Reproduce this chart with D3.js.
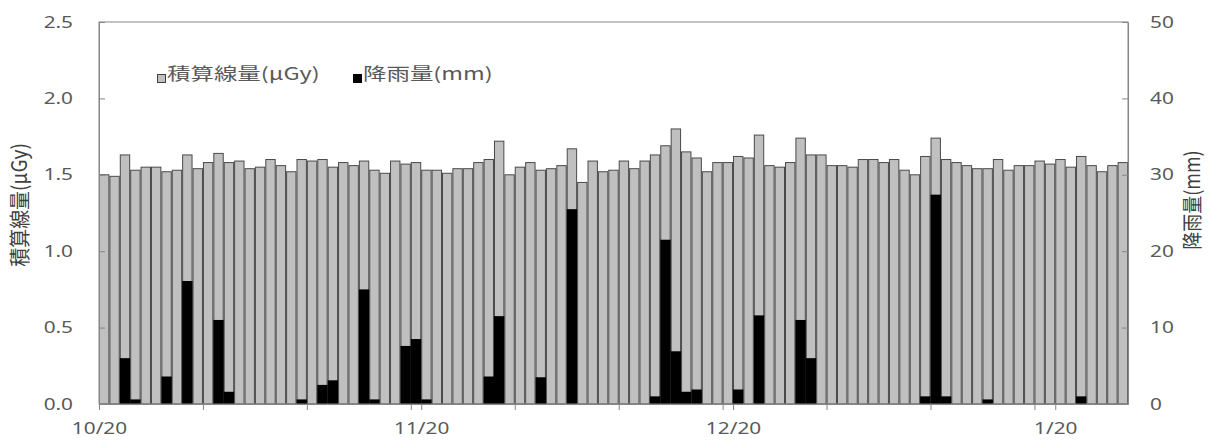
<!DOCTYPE html>
<html>
<head>
<meta charset="utf-8">
<script src="https://cdn.jsdelivr.net/npm/d3@7"></script>
<style>
  body { margin: 0; background: #fff; }
  svg { display: block; }
</style>
</head>
<body>
<svg id="chart" width="1211" height="445"></svg>
<script>
"use strict";

// first day of the series (10/20), one bar per day
const startDay = new Date(2012, 9, 20);

// 積算線量 (µGy), one value per day from 10/20
const dose = [
  1.50, 1.49, 1.63, 1.53, 1.55, 1.55, 1.52, 1.53, 1.63, 1.54,
  1.58, 1.64, 1.58, 1.59, 1.54, 1.55, 1.60, 1.56, 1.52, 1.60,
  1.59, 1.60, 1.55, 1.58, 1.56, 1.59, 1.53, 1.51, 1.59, 1.57,
  1.58, 1.53, 1.53, 1.51, 1.54, 1.54, 1.58, 1.60, 1.72, 1.50,
  1.55, 1.58, 1.53, 1.54, 1.56, 1.67, 1.45, 1.59, 1.52, 1.53,
  1.59, 1.54, 1.59, 1.63, 1.69, 1.80, 1.65, 1.61, 1.52, 1.58,
  1.58, 1.62, 1.61, 1.76, 1.56, 1.55, 1.58, 1.74, 1.63, 1.63,
  1.56, 1.56, 1.55, 1.60, 1.60, 1.58, 1.60, 1.53, 1.50, 1.62,
  1.74, 1.60, 1.58, 1.56, 1.54, 1.54, 1.60, 1.53, 1.56, 1.56,
  1.59, 1.57, 1.60, 1.55, 1.62, 1.56, 1.52, 1.56, 1.58
];

// 降雨量 (mm), same days
const rain = [
  0, 0, 6.0, 0.6, 0, 0, 3.6, 0, 16.1, 0,
  0, 11.0, 1.6, 0, 0, 0, 0, 0, 0, 0.6,
  0, 2.5, 3.1, 0, 0, 15.0, 0.6, 0, 0, 7.6,
  8.5, 0.6, 0, 0, 0, 0, 0, 3.6, 11.5, 0,
  0, 0, 3.5, 0, 0, 25.5, 0, 0, 0, 0,
  0, 0, 0, 1.0, 21.5, 6.9, 1.6, 1.9, 0, 0,
  0, 1.9, 0, 11.6, 0, 0, 0, 11.0, 6.0, 0,
  0, 0, 0, 0, 0, 0, 0, 0, 0, 1.0,
  27.4, 1.0, 0, 0, 0, 0.6, 0, 0, 0, 0,
  0, 0, 0, 0, 1.0, 0, 0, 0, 0
];

const doseTicks = [0, 0.5, 1.0, 1.5, 2.0, 2.5];
const rainTicks = [0, 10, 20, 30, 40, 50];
const tickDays = ["10/20", "10/30", "11/9", "11/19", "11/20", "11/29", "12/9",
                  "12/19", "12/20", "12/29", "1/8", "1/18", "1/20"];
const labelDays = ["10/20", "11/20", "12/20", "1/20"];

const plotLeft = 99, plotRight = 1128, plotTop = 22, plotBottom = 404;
const SX = 1.3;          // glyphs in the picture are wider than tall
const latinFont = "'Noto Sans', sans-serif";
const cjkFont = "'Noto Sans CJK JP', sans-serif";

function parseDay(s) {
  const [m, d] = s.split("/").map(Number);
  return new Date(m >= 10 ? 2012 : 2013, m - 1, d);
}

// move x/y into a transform so the glyph can be stretched sideways
function stretch(sel, sx) {
  sel.each(function () {
    const t = d3.select(this);
    const x = +t.attr("x") || 0;
    const y = +t.attr("y") || 0;
    t.attr("x", 0).attr("y", 0)
      .attr("transform", `translate(${x},${y}) scale(${sx},1)`);
  });
}

const svg = d3.select("#chart");

const x = d3.scaleTime()
  .domain([startDay, d3.timeDay.offset(startDay, dose.length)])
  .range([plotLeft, plotRight]);
const yDose = d3.scaleLinear().domain([0, 2.5]).range([plotBottom, plotTop]);
const yRain = d3.scaleLinear().domain([0, 50]).range([plotBottom, plotTop]);

const days = dose.map((v, i) => ({
  day: d3.timeDay.offset(startDay, i),
  dose: v,
  rain: rain[i]
}));
const x0 = d => x(d.day);
const bw = d => x(d3.timeDay.offset(d.day, 1)) - x(d.day);

// dose bars
svg.append("g")
  .selectAll("rect")
  .data(days)
  .join("rect")
  .attr("x", d => x0(d) + 0.5)
  .attr("y", d => yDose(d.dose))
  .attr("width", d => bw(d) - 1)
  .attr("height", d => plotBottom - yDose(d.dose))
  .attr("fill", "#c0c0c0")
  .attr("stroke", "#4a4a4a")
  .attr("stroke-width", 1);

// rain bars (secondary axis, drawn on top)
svg.append("g")
  .selectAll("rect")
  .data(days.filter(d => d.rain > 0))
  .join("rect")
  .attr("x", d => x0(d))
  .attr("y", d => yRain(d.rain))
  .attr("width", d => bw(d))
  .attr("height", d => plotBottom - yRain(d.rain))
  .attr("fill", "#000");

// plot frame
svg.append("rect")
  .attr("x", plotLeft).attr("y", plotTop)
  .attr("width", plotRight - plotLeft).attr("height", plotBottom - plotTop)
  .attr("fill", "none")
  .attr("stroke", "#868686");

// left axis
const axL = svg.append("g")
  .attr("transform", `translate(${plotLeft},0)`)
  .call(d3.axisLeft(yDose).tickValues(doseTicks).tickFormat(d3.format(".1f"))
    .tickSizeInner(-6).tickSizeOuter(0).tickPadding(26));

// right axis
const axR = svg.append("g")
  .attr("transform", `translate(${plotRight},0)`)
  .call(d3.axisRight(yRain).tickValues(rainTicks)
    .tickSizeInner(-6).tickSizeOuter(0).tickPadding(22));

// bottom axis
const axB = svg.append("g")
  .attr("transform", `translate(0,${plotBottom})`)
  .call(d3.axisBottom(x).tickValues(tickDays.map(parseDay))
    .tickFormat(d => {
      const s = (d.getMonth() + 1) + "/" + d.getDate();
      return labelDays.includes(s) ? s : "";
    })
    .tickSizeInner(6).tickSizeOuter(0).tickPadding(13));

[axL, axR, axB].forEach(ax => {
  ax.select(".domain").attr("stroke", "#868686");
  ax.selectAll(".tick line").attr("stroke", "#868686");
  ax.selectAll(".tick text")
    .attr("fill", "#595959")
    .style("font-family", latinFont)
    .style("font-size", "16px")
    .call(stretch, SX);
});

// legend
const legendItems = [
  { label: "積算線量(µGy)", fill: "#c0c0c0", stroke: "#404040", x: 157 },
  { label: "降雨量(mm)", fill: "#000", stroke: "#000", x: 353 }
];
const legend = svg.append("g")
  .selectAll("g")
  .data(legendItems)
  .join("g")
  .attr("transform", d => `translate(${d.x},74)`);
legend.append("rect")
  .attr("x", 0.5).attr("y", 0.5)
  .attr("width", 8).attr("height", 8)
  .attr("fill", d => d.fill)
  .attr("stroke", d => d.stroke);
legend.append("text")
  .attr("x", 10)
  .attr("y", 0)
  .attr("dy", "0.35em")
  .attr("fill", "#595959")
  .style("font-family", cjkFont)
  .style("font-size", "17px")
  .text(d => d.label)
  .call(stretch, 1.38);

// axis titles
svg.append("text")
  .attr("transform", "translate(20,205) scale(1.1,1) rotate(-90)")
  .attr("text-anchor", "middle")
  .attr("dy", "0.35em")
  .attr("fill", "#404040")
  .style("font-family", cjkFont)
  .style("font-size", "19px")
  .text("積算線量(µGy)");

svg.append("text")
  .attr("transform", "translate(1193,200) scale(1.15,1) rotate(-90)")
  .attr("text-anchor", "middle")
  .attr("dy", "0.35em")
  .attr("fill", "#404040")
  .style("font-family", cjkFont)
  .style("font-size", "18px")
  .text("降雨量(mm)");
</script>
</body>
</html>
